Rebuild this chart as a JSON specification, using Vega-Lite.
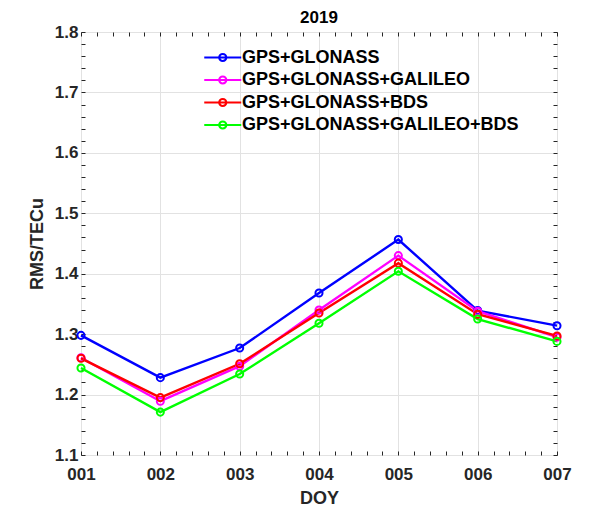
{
  "$schema": "https://vega.github.io/schema/vega-lite/v6.json",
  "width": 476,
  "height": 423,
  "autosize": {"type": "none"},
  "padding": {"left": 81, "top": 32, "right": 39, "bottom": 52},
  "background": "white",
  "config": {
    "font": "Liberation Sans",
    "view": {"stroke": "#262626", "strokeWidth": 1},
    "axis": {
      "labelFont": "Liberation Sans",
      "labelFontWeight": "bold",
      "labelFontSize": 17,
      "labelColor": "#262626",
      "titleFont": "Liberation Sans",
      "titleFontWeight": "bold",
      "titleFontSize": 18,
      "titleColor": "#262626",
      "tickColor": "#262626",
      "domain": false,
      "gridColor": "#e2e2e2",
      "gridWidth": 1
    }
  },
  "title": {
    "text": "2019",
    "font": "Liberation Sans",
    "fontSize": 17,
    "fontWeight": "bold",
    "color": "#000000",
    "offset": -4
  },
  "data": {
    "values": [
      {"doy": 1, "sys": "GPS+GLONASS", "rms": 1.298},
      {"doy": 2, "sys": "GPS+GLONASS", "rms": 1.228},
      {"doy": 3, "sys": "GPS+GLONASS", "rms": 1.277},
      {"doy": 4, "sys": "GPS+GLONASS", "rms": 1.368},
      {"doy": 5, "sys": "GPS+GLONASS", "rms": 1.4565},
      {"doy": 6, "sys": "GPS+GLONASS", "rms": 1.339},
      {"doy": 7, "sys": "GPS+GLONASS", "rms": 1.314},
      {"doy": 1, "sys": "GPS+GLONASS+GALILEO", "rms": 1.261},
      {"doy": 2, "sys": "GPS+GLONASS+GALILEO", "rms": 1.189},
      {"doy": 3, "sys": "GPS+GLONASS+GALILEO", "rms": 1.247},
      {"doy": 4, "sys": "GPS+GLONASS+GALILEO", "rms": 1.340},
      {"doy": 5, "sys": "GPS+GLONASS+GALILEO", "rms": 1.430},
      {"doy": 6, "sys": "GPS+GLONASS+GALILEO", "rms": 1.338},
      {"doy": 7, "sys": "GPS+GLONASS+GALILEO", "rms": 1.295},
      {"doy": 1, "sys": "GPS+GLONASS+BDS", "rms": 1.260},
      {"doy": 2, "sys": "GPS+GLONASS+BDS", "rms": 1.195},
      {"doy": 3, "sys": "GPS+GLONASS+BDS", "rms": 1.251},
      {"doy": 4, "sys": "GPS+GLONASS+BDS", "rms": 1.335},
      {"doy": 5, "sys": "GPS+GLONASS+BDS", "rms": 1.4175},
      {"doy": 6, "sys": "GPS+GLONASS+BDS", "rms": 1.333},
      {"doy": 7, "sys": "GPS+GLONASS+BDS", "rms": 1.297},
      {"doy": 1, "sys": "GPS+GLONASS+GALILEO+BDS", "rms": 1.244},
      {"doy": 2, "sys": "GPS+GLONASS+GALILEO+BDS", "rms": 1.171},
      {"doy": 3, "sys": "GPS+GLONASS+GALILEO+BDS", "rms": 1.234},
      {"doy": 4, "sys": "GPS+GLONASS+GALILEO+BDS", "rms": 1.318},
      {"doy": 5, "sys": "GPS+GLONASS+GALILEO+BDS", "rms": 1.404},
      {"doy": 6, "sys": "GPS+GLONASS+GALILEO+BDS", "rms": 1.325},
      {"doy": 7, "sys": "GPS+GLONASS+GALILEO+BDS", "rms": 1.288}
    ]
  },
  "layer": [
    {
      "mark": {"type": "line", "strokeWidth": 2.4, "point": {"filled": false, "size": 50, "strokeWidth": 2, "fill": null}},
      "encoding": {
        "x": {
          "field": "doy", "type": "quantitative",
          "scale": {"domain": [1, 7], "nice": false, "zero": false},
          "axis": {
            "title": "DOY",
            "titlePadding": 7,
            "values": [1,1.2,1.4,1.6,1.8,2,2.2,2.4,2.6,2.8,3,3.2,3.4,3.6,3.8,4,4.2,4.4,4.6,4.8,5,5.2,5.4,5.6,5.8,6,6.2,6.4,6.6,6.8,7],
            "labelExpr": "abs(datum.value - round(datum.value)) < 0.01 ? '00' + round(datum.value) : ''",
            "tickSize": -4,
            "labelPadding": 15,
            "labelFlush": false,
            "labelOverlap": false,
            "gridOpacity": {"condition": {"test": "abs(datum.value - round(datum.value)) < 0.01", "value": 1}, "value": 0}
          }
        },
        "y": {
          "field": "rms", "type": "quantitative",
          "scale": {"domain": [1.1, 1.8], "nice": false, "zero": false},
          "axis": {
            "title": "RMS/TECu",
            "titlePadding": 8,
            "values": [1.1,1.12,1.14,1.16,1.18,1.2,1.22,1.24,1.26,1.28,1.3,1.32,1.34,1.36,1.38,1.4,1.42,1.44,1.46,1.48,1.5,1.52,1.54,1.56,1.58,1.6,1.62,1.64,1.66,1.68,1.7,1.72,1.74,1.76,1.78,1.8],
            "labelExpr": "abs(datum.value * 10 - round(datum.value * 10)) < 0.01 ? format(datum.value, '.1f') : ''",
            "tickSize": -4,
            "labelPadding": 7,
            "labelFlush": false,
            "labelOverlap": false,
            "gridOpacity": {"condition": {"test": "abs(datum.value * 10 - round(datum.value * 10)) < 0.01", "value": 1}, "value": 0}
          }
        },
        "color": {
          "field": "sys", "type": "nominal",
          "scale": {
            "domain": ["GPS+GLONASS", "GPS+GLONASS+GALILEO", "GPS+GLONASS+BDS", "GPS+GLONASS+GALILEO+BDS"],
            "range": ["#0000FF", "#FF00FF", "#FF0000", "#00FF00"]
          },
          "legend": {
            "title": null,
            "orient": "none",
            "legendX": 122,
            "legendY": 15,
            "padding": 0,
            "symbolType": "M-1,0H3M1.38,0A0.38,0.38 0 1 1 0.62,0A0.38,0.38 0 1 1 1.38,0",
            "symbolSize": 342,
            "symbolStrokeWidth": 2.2,
            "symbolFillColor": "transparent",
            "labelOffset": 18,
            "labelFont": "Liberation Sans",
            "labelFontWeight": "bold",
            "labelFontSize": 18,
            "labelColor": "#000000",
            "rowPadding": 2.5,
            "labelLimit": 400
          }
        }
      }
    },
    {
      "mark": {"type": "point", "opacity": 0},
      "encoding": {
        "x": {
          "field": "doy", "type": "quantitative",
          "axis": {
            "orient": "top", "title": null, "labels": false, "grid": false,
            "values": [1,1.2,1.4,1.6,1.8,2,2.2,2.4,2.6,2.8,3,3.2,3.4,3.6,3.8,4,4.2,4.4,4.6,4.8,5,5.2,5.4,5.6,5.8,6,6.2,6.4,6.6,6.8,7],
            "tickSize": -4
          }
        },
        "y": {
          "field": "rms", "type": "quantitative",
          "axis": {
            "orient": "right", "title": null, "labels": false, "grid": false,
            "values": [1.1,1.12,1.14,1.16,1.18,1.2,1.22,1.24,1.26,1.28,1.3,1.32,1.34,1.36,1.38,1.4,1.42,1.44,1.46,1.48,1.5,1.52,1.54,1.56,1.58,1.6,1.62,1.64,1.66,1.68,1.7,1.72,1.74,1.76,1.78,1.8],
            "tickSize": -4
          }
        }
      }
    }
  ],
  "resolve": {"axis": {"x": "independent", "y": "independent"}}
}
